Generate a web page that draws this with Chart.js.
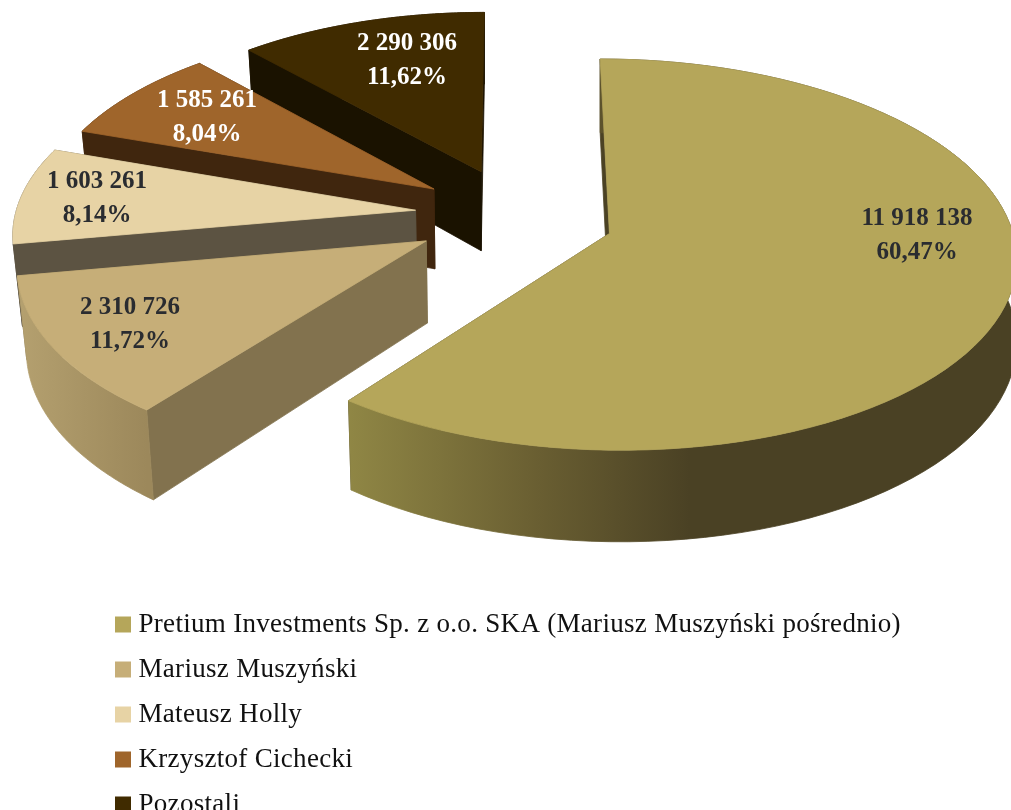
<!DOCTYPE html>
<html>
<head>
<meta charset="utf-8">
<style>
  html, body { margin: 0; padding: 0; background: #fff; overflow: hidden; }
</style>
<script src="https://cdn.jsdelivr.net/npm/chart.js@4"></script>
</head>
<body>
<canvas id="chart" width="1011" height="810"></canvas>
<script>
const categories = [
  'Pretium Investments Sp. z o.o. SKA (Mariusz Muszyński pośrednio)',
  'Mariusz Muszyński',
  'Mateusz Holly',
  'Krzysztof Cichecki',
  'Pozostali'
];
const shares = [11918138, 2310726, 1603261, 1585261, 2290306];
const shareLabels = ['11 918 138', '2 310 726', '1 603 261', '1 585 261', '2 290 306'];
const percentLabels = ['60,47%', '11,72%', '8,14%', '8,04%', '11,62%'];

const topColors = ['#B5A65A', '#C6AE78', '#E7D3A5', '#9F652B', '#402B00'];
const wallColors = ['#4B4224', '#82724E', '#5C5342', '#40260E', '#1A1200'];
const rimShades = [
  [[0, '#908745'], [0.55, '#6A5F32'], [1, '#4A4124']],
  [[0, '#B4A06F'], [1, '#9C885B']],
  [[0, '#5C5342'], [1, '#5C5342']],
  [[0, '#40260E'], [1, '#40260E']],
  [[0, '#1A1200'], [1, '#1A1200']]
];
const rimShadeRange = [[346, 690], [20, 147], [0, 1], [0, 1], [0, 1]];
const labelAnchors = [[917, 236], [130, 325], [97, 199], [207, 118], [407, 61]];
const labelColors = ['#2A2C30', '#2A2C30', '#2A2C30', '#FFFFFF', '#FFFFFF'];
// small per-slice screen shift and radius on top of the explode distance
const sliceNudge = [[2, 0], [1, -2], [3, -4], [4, -3], [4, -3]];
const sliceRadius = [1, 1, 1, 0.985, 0.97];

// view of the pie plane: radius 1 on the ground, perspective along y
const view = { cx: 512, cy: 218, a: 400, c: 190, k: 0.107, depth: 81, explode: 0.25, vx: 480, lean: 0.02 };

function project(x, y, z, nudge) {
  const s = 1 / (1 - view.k * y);
  const px = view.cx + view.a * x * s + nudge[0];
  // the sides lean inwards only on the left of the picture
  const lean = px < view.vx ? z * view.lean * (view.vx - px) : 0;
  return [px + lean, view.cy + (view.c * y + z * view.depth) * s + nudge[1]];
}

function rimPoints(arc, z, i) {
  const mid = (arc.startAngle + arc.endAngle) / 2;
  const ox = Math.cos(mid) * view.explode;
  const oy = Math.sin(mid) * view.explode;
  const r = sliceRadius[i];
  const pts = [];
  const steps = 90;
  for (let n = 0; n <= steps; n++) {
    const t = arc.startAngle + (arc.endAngle - arc.startAngle) * n / steps;
    pts.push(project(ox + r * Math.cos(t), oy + r * Math.sin(t), z, sliceNudge[i]));
  }
  return { apex: project(ox, oy, z, sliceNudge[i]), pts };
}

function fillPoly(ctx, pts, fill) {
  ctx.beginPath();
  pts.forEach((p, i) => i ? ctx.lineTo(p[0], p[1]) : ctx.moveTo(p[0], p[1]));
  ctx.closePath();
  ctx.fillStyle = fill;
  ctx.strokeStyle = fill;
  ctx.lineWidth = 0.8;
  ctx.fill();
  ctx.stroke();
}

const pie3d = {
  id: 'pie3d',
  beforeLayout(chart) {
    chart.ctx.letterSpacing = '0.3px';
  },
  afterLayout(chart) {
    // the legend box is clipped on draw: the long first row needs the full width
    chart.legend.right = chart.width;
    chart.legend.bottom = chart.height + 26;
  },
  beforeDatasetDraw(chart, args) {
    const ctx = chart.ctx;
    const arcs = args.meta.data;
    // back slices first, the front ones cover them
    for (let i = arcs.length - 1; i >= 0; i--) {
      const top = rimPoints(arcs[i], 0, i);
      const low = rimPoints(arcs[i], 1, i);
      const last = top.pts.length - 1;
      fillPoly(ctx, [top.apex, top.pts[last], low.pts[last], low.apex], wallColors[i]);
      fillPoly(ctx, [top.apex, top.pts[0], low.pts[0], low.apex], wallColors[i]);
      const g = ctx.createLinearGradient(rimShadeRange[i][0], 0, rimShadeRange[i][1], 0);
      rimShades[i].forEach(s => g.addColorStop(s[0], s[1]));
      fillPoly(ctx, top.pts.concat(low.pts.slice().reverse()), g);
      fillPoly(ctx, [top.apex].concat(top.pts), topColors[i]);
    }
    return false;
  },
  afterDatasetsDraw(chart) {
    const ctx = chart.ctx;
    ctx.save();
    ctx.letterSpacing = '0px';
    ctx.font = 'bold 25px "Liberation Serif"';
    ctx.textAlign = 'center';
    ctx.textBaseline = 'middle';
    labelAnchors.forEach((p, i) => {
      ctx.fillStyle = labelColors[i];
      ctx.fillText(shareLabels[i], p[0], p[1] - 17);
      ctx.fillText(percentLabels[i], p[0], p[1] + 17);
    });
    ctx.restore();
  }
};

new Chart(document.querySelector('#chart').getContext('2d'), {
  type: 'pie',
  plugins: [pie3d],
  data: {
    labels: categories,
    datasets: [{
      data: shares,
      backgroundColor: topColors,
      borderColor: topColors,
      borderWidth: 12
    }]
  },
  options: {
    responsive: false,
    animation: false,
    layout: { padding: { left: 103, bottom: 0 } },
    plugins: {
      tooltip: { enabled: false },
      legend: {
        position: 'left',
        align: 'end',
        labels: {
          boxWidth: 4,
          boxHeight: 4,
          padding: 18,
          color: '#111',
          font: { family: '"Liberation Serif"', size: 27 }
        }
      }
    }
  }
});
</script>
</body>
</html>
